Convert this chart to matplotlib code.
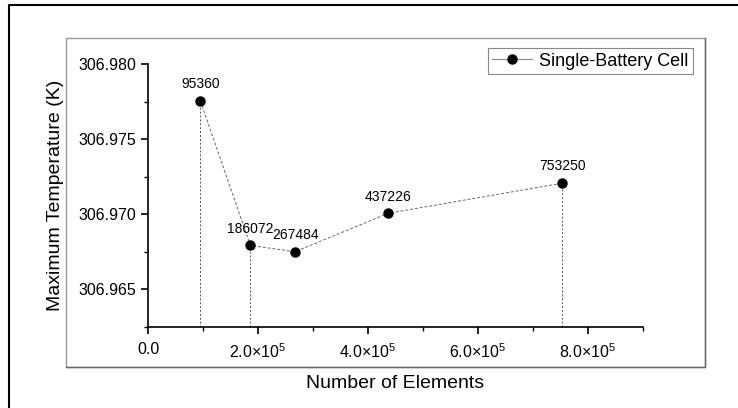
import matplotlib
matplotlib.use("Agg")
import matplotlib.pyplot as plt
from matplotlib.lines import Line2D
from matplotlib.patches import Rectangle
from matplotlib.ticker import MultipleLocator, FuncFormatter

plt.rcParams['font.family'] = ['Liberation Sans', 'DejaVu Sans']
plt.rcParams['mathtext.fontset'] = 'custom'
plt.rcParams['mathtext.rm'] = 'Liberation Sans'
plt.rcParams['mathtext.it'] = 'Liberation Sans'

# mesh sizes and the max temperature found for each
elements = [95360, 186072, 267484, 437226, 753250]
max_temp = [306.97753, 306.96793, 306.96751, 306.97007, 306.97207]
point_labels = ['95360', '186072', '267484', '437226', '753250']
# elements that get a drop line down to the x axis
drop_lines = [95360, 186072, 753250]

W, H = 738, 408
fig = plt.figure(figsize=(W / 100, H / 100), dpi=100)
ax = fig.add_axes([148 / W, 1 - 327 / H, (643 - 148) / W, (327 - 64) / H])

ax.plot(elements, max_temp, color='#666666', lw=0.7, ls=(0, (3, 2)), zorder=2)
ax.plot(elements, max_temp, 'o', color='black', ms=6.5, zorder=3)

ymin, ymax = 306.9625, 306.980
for x, y in zip(elements, max_temp):
    if x in drop_lines:
        ax.plot([x, x], [ymin, y], color='#555555', lw=0.7, ls=(0, (2, 2)), zorder=1)

for x, y, t in zip(elements, max_temp, point_labels):
    ax.annotate(t, (x, y), xytext=(0, 7), textcoords='offset points',
                ha='center', va='bottom', fontsize=10)

ax.set_xlim(0, 9e5)
ax.set_ylim(ymin, ymax)
ax.xaxis.set_major_locator(MultipleLocator(2e5))
ax.xaxis.set_minor_locator(MultipleLocator(1e5))
ax.yaxis.set_major_locator(MultipleLocator(0.005))
ax.yaxis.set_minor_locator(MultipleLocator(0.0025))


def sci_fmt(v, pos):
    if v == 0:
        return '0.0'
    exp = 5
    return r'$%.1f{\times}10^{%d}$' % (v / 10 ** exp, exp)


ax.xaxis.set_major_formatter(FuncFormatter(sci_fmt))
ax.yaxis.set_major_formatter(FuncFormatter(lambda v, p: '%.3f' % v))

for s in ['top', 'right']:
    ax.spines[s].set_visible(False)
for s in ['left', 'bottom']:
    ax.spines[s].set_linewidth(1.2)
ax.tick_params(which='major', direction='out', length=5, width=1.2, labelsize=11.5)
ax.tick_params(which='minor', direction='out', length=3, width=1.0)
ax.tick_params(axis='x', pad=6)

ax.set_xlabel('Number of Elements', fontsize=14, labelpad=10)
ax.set_ylabel('Maximum Temperature (K)', fontsize=14, labelpad=10)

handle = Line2D([], [], color='#888888', lw=0.8, marker='o', ms=6.5,
                markerfacecolor='black', markeredgecolor='black')
leg = fig.legend([handle], ['Single-Battery Cell'], loc='upper right',
                 bbox_to_anchor=(693 / W, 1 - 48 / H), bbox_transform=fig.transFigure,
                 borderaxespad=0, fancybox=False, framealpha=1, fontsize=13,
                 handlelength=2.2, handletextpad=0.4, borderpad=0.25)
leg.get_frame().set_edgecolor('#888888')
leg.get_frame().set_linewidth(0.8)

# grey plot frame
fig.add_artist(Rectangle((66 / W, 1 - 367 / H), (705 - 66) / W, (367 - 38) / H,
                         transform=fig.transFigure, fill=False,
                         edgecolor='#999999', lw=1.0))
fig.add_artist(Line2D([66 / W, 705 / W, 705 / W], [1 - 367 / H, 1 - 367 / H, 1 - 38 / H],
                      transform=fig.transFigure, color='#666666', lw=1.0))
# page border on the left and top
fig.add_artist(Line2D([9 / W, 9 / W, 1], [0, 1 - 5 / H, 1 - 5 / H],
                      transform=fig.transFigure, color='black', lw=1.5))

fig.savefig('out.png', dpi=100)
